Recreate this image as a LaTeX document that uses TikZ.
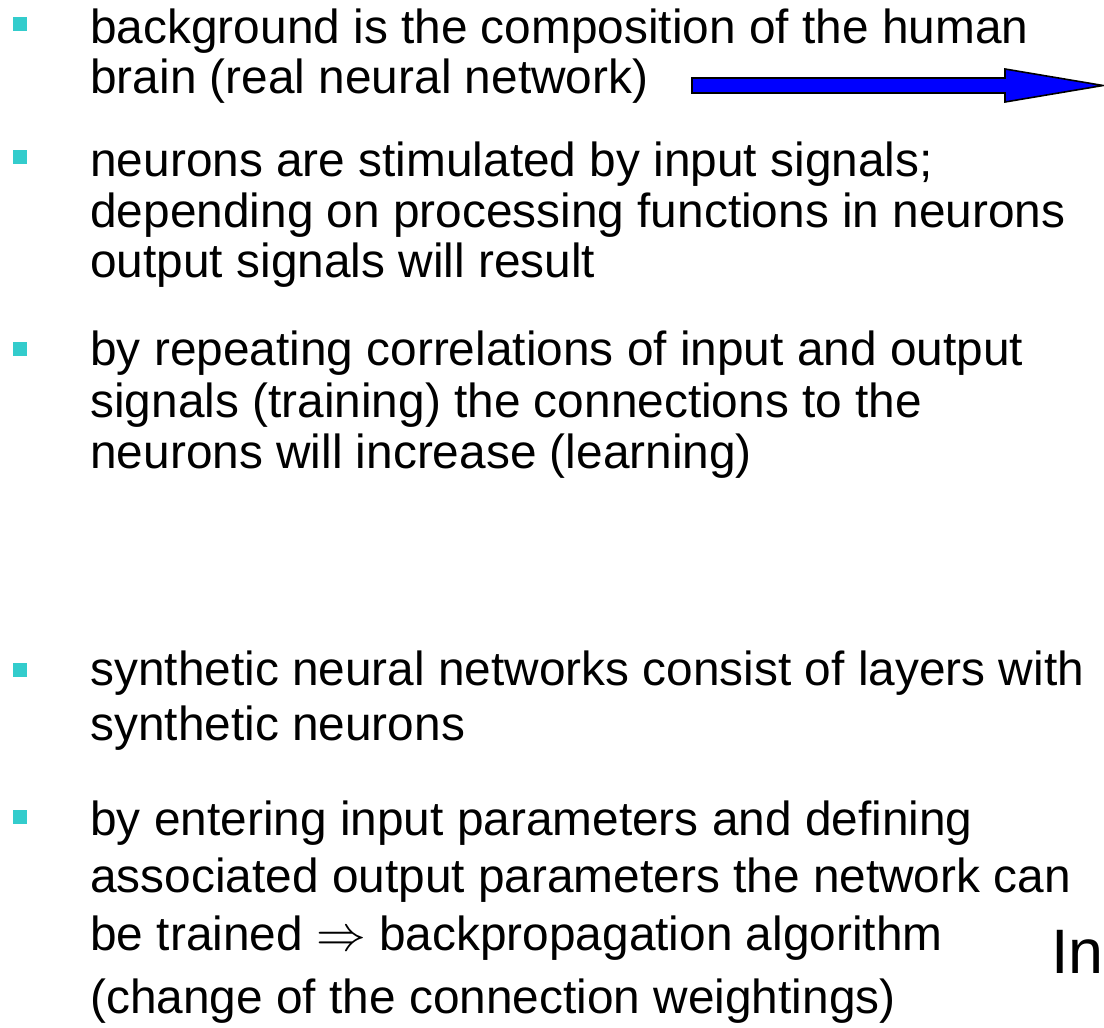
\documentclass[tikz,border=0pt]{standalone}
\usepackage{fontspec}
\setmainfont{Liberation Sans}
\usepackage{tikz}
\usetikzlibrary{positioning}
\usepackage{xcolor}
\definecolor{bulletcyan}{RGB}{51,204,204}
\definecolor{arrowblue}{RGB}{0,0,255}

\tikzset{
  textline/.style={anchor=base west,inner sep=0pt,font=\fontsize{23.9}{29}\selectfont},
  bulletsq/.style={rectangle,fill=bulletcyan,minimum size=7pt,inner sep=0pt},
}

\begin{document}
\begin{tikzpicture}[x=0.5pt,y=-0.5pt]
\useasboundingbox (0,0) rectangle (1104,1028);
% bullet squares
\node[bulletsq] (b1) at (20,24) {};
\node[bulletsq] (b2) at (20,157) {};
\node[bulletsq] (b3) at (20,349) {};
\node[bulletsq] (b4) at (20,670) {};
\node[bulletsq] (b5) at (20,817) {};
% first item
\node[textline] (l11) at (90,43) {background is the composition of the human};
\node[textline] (l12) at (90,93) {brain (real neural network)};
% second item
\node[textline] (l21) at (90,176) {neurons are stimulated by input signals;};
\node[textline] (l22) at (90,227) {depending on processing functions in neurons};
\node[textline] (l23) at (90,277) {output signals will result};
% third item
\node[textline] (l31) at (90,365) {by repeating correlations of input and output};
\node[textline] (l32) at (90,417) {signals (training) the connections to the};
\node[textline] (l33) at (90,468) {neurons will increase (learning)};
% fourth item
\node[textline] (l41) at (90,685) {synthetic neural networks consist of layers with};
\node[textline] (l42) at (90,740) {synthetic neurons};
% fifth item
\node[textline] (l51) at (90,835) {by entering input parameters and defining};
\node[textline] (l52) at (90,892) {associated output parameters the network can};
\node[textline] (l53) at (90,950) {be trained $\Rightarrow$ backpropagation algorithm};
\node[textline] (l54) at (90,1013) {(change of the connection weightings)};
% cut-off label at the right
\node[anchor=base west,inner sep=0pt,font=\fontsize{31.4}{36}\selectfont] (inlbl) at (1051,973) {In};
% block arrow
\draw[fill=arrowblue,line width=0.8pt,line join=miter]
  (692,78) -- (1005,78) -- (1005,69) -- (1103,85.5) -- (1005,102) -- (1005,93) -- (692,93) -- cycle;
\end{tikzpicture}
\end{document}
